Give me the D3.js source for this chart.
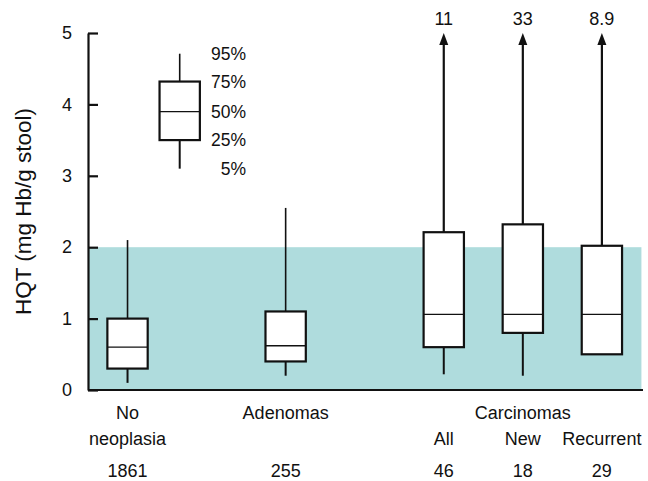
<!DOCTYPE html>
<html>
<head>
<meta charset="utf-8">
<script src="https://cdn.jsdelivr.net/npm/d3@7"></script>
<style>
  body { margin: 0; background: #fff; }
  text { font-family: "Liberation Sans", Arial, sans-serif; fill: #111; }
</style>
</head>
<body>
<div id="chart"></div>
<script>
const width = 648;
const height = 481;

// data
const groups = ['No neoplasia', 'Adenomas', 'All', 'New', 'Recurrent'];
const slots = [0, 2, 4, 5, 6];
const p5 = [0.1, 0.2, 0.22, 0.2, null];
const p25 = [0.3, 0.4, 0.6, 0.8, 0.5];
const p50 = [0.6, 0.62, 1.06, 1.06, 1.06];
const p75 = [1.0, 1.1, 2.21, 2.32, 2.02];
const p95 = [2.1, 2.55, 11, 33, 8.9];
const counts = ['1861', '255', '46', '18', '29'];
const yTicks = [0, 1, 2, 3, 4, 5];
const normalLimit = 2;

// legend box values
const legendStats = [3.1, 3.5, 3.9, 4.32, 4.71];
const legendLabels = ['5%', '25%', '50%', '75%', '95%'];

const x = d3.scaleLinear().domain([-0.5, 6.52]).range([88, 643]);
const y = d3.scaleLinear().domain([0, 5]).range([390, 33]);
const boxW = x(0.51) - x(0);
const yMax = 5;

const svg = d3.select('#chart').append('svg')
  .attr('width', width)
  .attr('height', height);

// shaded normal range
svg.append('rect')
  .attr('x', x(-0.5))
  .attr('y', y(normalLimit))
  .attr('width', x(6.5) - x(-0.5))
  .attr('height', y(0) - y(normalLimit))
  .attr('fill', '#afdcdd');

// y axis, ticks pointing inside
const yAxis = svg.append('g')
  .attr('transform', `translate(${x(-0.5)},0)`)
  .call(d3.axisLeft(y).tickValues(yTicks).tickFormat(d3.format('d'))
    .tickSizeInner(-10).tickSizeOuter(0).tickPadding(16));
yAxis.select('.domain').attr('stroke', '#111').attr('stroke-width', 2.2);
yAxis.selectAll('.tick line').attr('stroke', '#111').attr('stroke-width', 2.2);
yAxis.selectAll('.tick text').attr('font-size', 18).attr('fill', '#111')
  .style('font-family', '"Liberation Sans", Arial, sans-serif');

// x baseline
svg.append('line')
  .attr('x1', x(-0.5)).attr('x2', x(6.52))
  .attr('y1', y(0)).attr('y2', y(0))
  .attr('stroke', '#111').attr('stroke-width', 2.2);

svg.append('text')
  .attr('transform', `translate(31,${(y(0) + y(5)) / 2}) rotate(-90)`)
  .attr('text-anchor', 'middle')
  .attr('font-size', 22.5)
  .text('HQT (mg Hb/g stool)');

function drawBox (g, cx, lo, q1, med, q3, hi) {
  const top = Math.min(hi, yMax);
  g.append('line')
    .attr('x1', cx).attr('x2', cx)
    .attr('y1', y(q3)).attr('y2', y(top) + (hi > yMax ? 8 : 0))
    .attr('stroke', '#111').attr('stroke-width', hi > yMax ? 2.2 : 1.6);
  if (hi > yMax) {
    g.append('path')
      .attr('d', `M${cx},${y(yMax)} L${cx - 4.5},${y(yMax) + 12} L${cx + 4.5},${y(yMax) + 12} Z`)
      .attr('fill', '#111');
  }
  if (lo != null) {
    g.append('line')
      .attr('x1', cx).attr('x2', cx)
      .attr('y1', y(q1)).attr('y2', y(lo))
      .attr('stroke', '#111').attr('stroke-width', 2);
  }
  g.append('rect')
    .attr('x', cx - boxW / 2).attr('width', boxW)
    .attr('y', y(q3)).attr('height', y(q1) - y(q3))
    .attr('fill', '#fff').attr('stroke', '#111').attr('stroke-width', 2.2);
  g.append('line')
    .attr('x1', cx - boxW / 2).attr('x2', cx + boxW / 2)
    .attr('y1', y(med)).attr('y2', y(med))
    .attr('stroke', '#111').attr('stroke-width', 1.3);
}

const boxes = svg.append('g');
groups.forEach((gname, i) => {
  const cx = x(slots[i]);
  drawBox(boxes, cx, p5[i], p25[i], p50[i], p75[i], p95[i]);
  if (p95[i] > yMax) {
    boxes.append('text')
      .attr('x', cx).attr('y', 25)
      .attr('text-anchor', 'middle').attr('font-size', 18)
      .text(p95[i]);
  }
  boxes.append('text')
    .attr('x', cx).attr('y', 477)
    .attr('text-anchor', 'middle').attr('font-size', 18)
    .text(counts[i]);
});

// category labels
const labels = svg.append('g').attr('font-size', 18).attr('text-anchor', 'middle');
labels.append('text').attr('x', x(0)).attr('y', 419).text('No');
labels.append('text').attr('x', x(0)).attr('y', 445).text('neoplasia');
labels.append('text').attr('x', x(2)).attr('y', 419).text('Adenomas');
labels.append('text').attr('x', x(5)).attr('y', 419).text('Carcinomas');
labels.append('text').attr('x', x(4)).attr('y', 445).text('All');
labels.append('text').attr('x', x(5)).attr('y', 445).text('New');
labels.append('text').attr('x', x(6)).attr('y', 445).text('Recurrent');

// legend
const legend = svg.append('g');
const lx = x(0.66);
drawBox(legend, lx, legendStats[0], legendStats[1], legendStats[2], legendStats[3], legendStats[4]);
legend.selectAll('text.lg')
  .data(legendLabels)
  .enter().append('text')
  .attr('class', 'lg')
  .attr('x', 246)
  .attr('y', (d, i) => y(legendStats[i]) + 6)
  .attr('text-anchor', 'end')
  .attr('font-size', 17.5)
  .text(d => d);
</script>
</body>
</html>
